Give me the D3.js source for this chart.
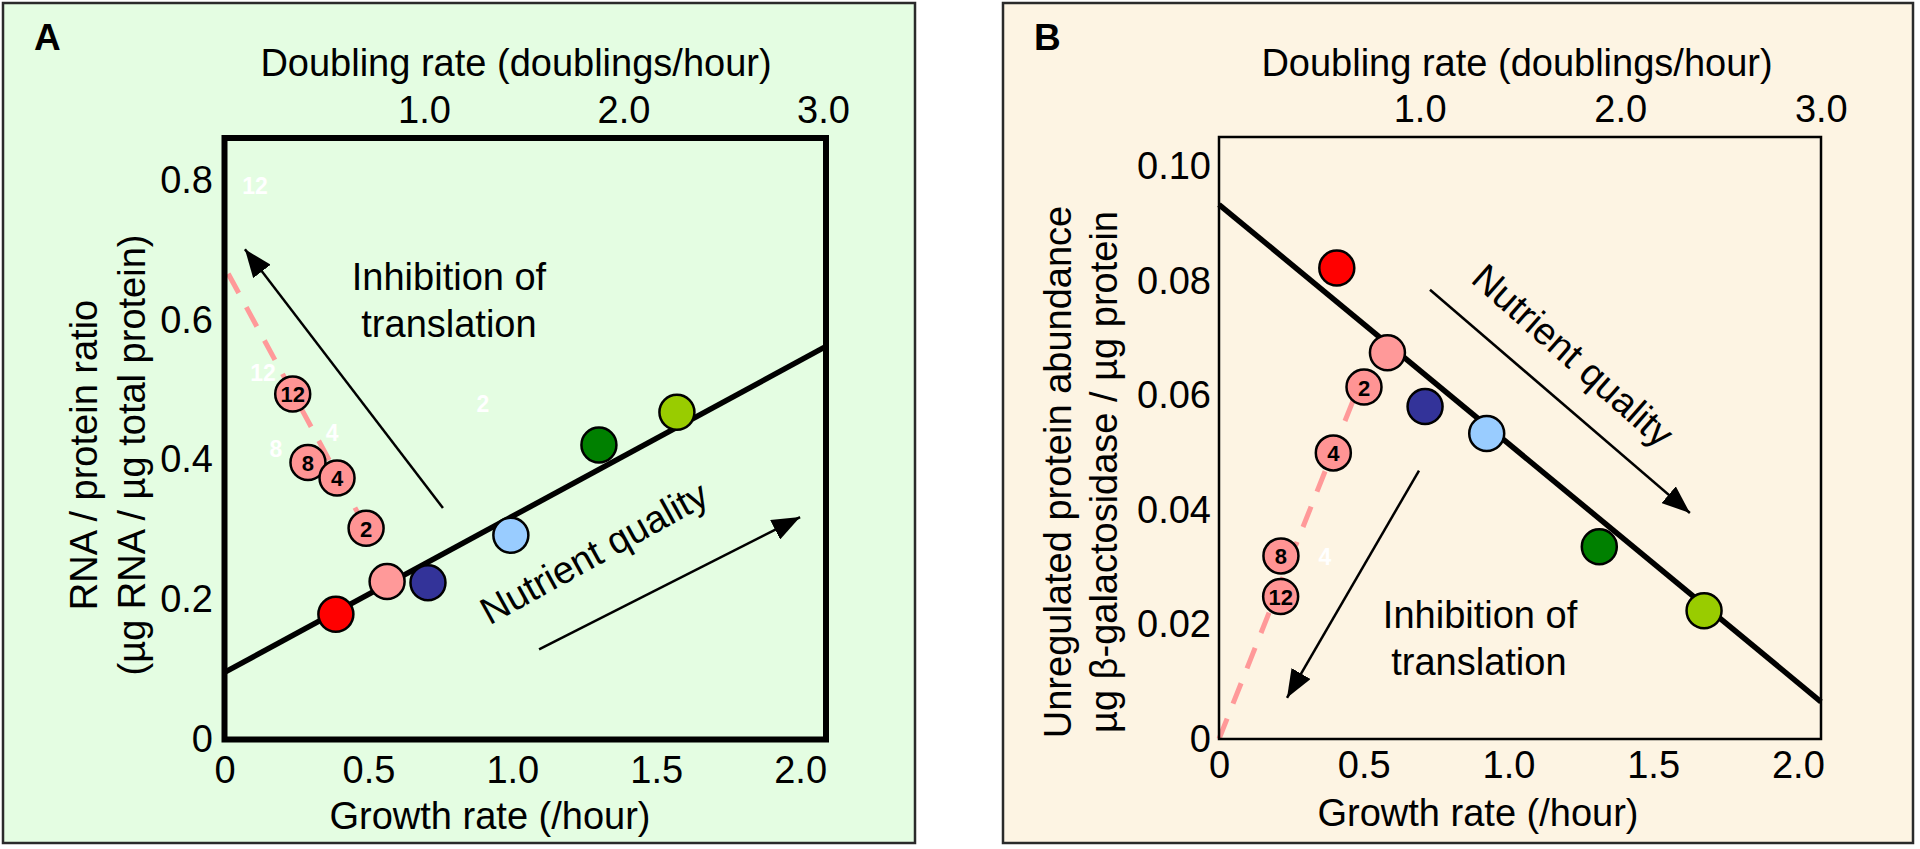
<!DOCTYPE html>
<html><head><meta charset="utf-8">
<script src="https://cdn.jsdelivr.net/npm/d3@7"></script>
<style>
html,body{margin:0;padding:0;background:#fff;}
svg{display:block;font-family:"Liberation Sans",Arial,Helvetica,sans-serif;}
</style>
</head><body>
<svg id="chart" width="1920" height="849"></svg>
<script>
// ================= DATA =================
const growthTicks = [0, 0.5, 1.0, 1.5, 2.0];
const growthTickLabels = ["0", "0.5", "1.0", "1.5", "2.0"];
const doublingTicks = [1, 2, 3];
const doublingTickLabels = ["1.0", "2.0", "3.0"];
const ratioTicksA = [0, 0.2, 0.4, 0.6, 0.8];
const ratioTickLabelsA = ["0", "0.2", "0.4", "0.6", "0.8"];
const abundTicksB = [0, 0.02, 0.04, 0.06, 0.08, 0.10];
const abundTickLabelsB = ["0", "0.02", "0.04", "0.06", "0.08", "0.10"];

// nutrient-limited media (one per colour)
const nutrientMedia = ["medium 1", "medium 2", "medium 3", "medium 4", "medium 5", "medium 6"];
const nutrientGrowthA = [0.387, 0.565, 0.707, 0.995, 1.301, 1.572];
const nutrientRatioA  = [0.179, 0.226, 0.224, 0.292, 0.421, 0.468];
const nutrientGrowthB = [0.407, 0.582, 0.712, 0.925, 1.314, 1.676];
const nutrientAbundB  = [0.0823, 0.0675, 0.0581, 0.0534, 0.0336, 0.0224];

// translation inhibition (drug dose labels)
const drugDoses   = ["12", "8", "4", "2"];
const drugGrowthA = [0.237, 0.290, 0.391, 0.492];
const drugRatioA  = [0.494, 0.396, 0.374, 0.302];
const drugGrowthB = [0.213, 0.214, 0.395, 0.501];
const drugAbundB  = [0.0249, 0.0320, 0.0500, 0.0615];

// fitted trend lines (end points)
const fitGrowthA = [0, 2.09];
const fitRatioA  = [0.096, 0.562];
const fitGrowthB = [0, 2.08];
const fitAbundB  = [0.0934, 0.0065];
const drugTrendGrowthA = [0.013, 0.492];
const drugTrendRatioA  = [0.666, 0.302];
const drugTrendGrowthB = [0, 0.47];
const drugTrendAbundB  = [0, 0.060];

// faint white labels present in the figure
const ghostLabelsA = ["12", "12", "8", "4", "2"];
const ghostGrowthA = [0.106, 0.134, 0.179, 0.374, 0.898];
const ghostRatioA  = [0.792, 0.524, 0.416, 0.438, 0.479];
const ghostLabelsB = ["4"];
const ghostGrowthB = [0.366];
const ghostAbundB  = [0.0318];

// annotation arrows [tail, tip] in data units
const inhibArrowGrowthA = [0.759, 0.071];
const inhibArrowRatioA  = [0.331, 0.701];
const nutrArrowGrowthA  = [1.093, 2.0];
const nutrArrowRatioA   = [0.129, 0.318];
const inhibArrowGrowthB = [0.691, 0.235];
const inhibArrowAbundB  = [0.0469, 0.0072];
const nutrArrowGrowthB  = [0.729, 1.627];
const nutrArrowAbundB   = [0.0785, 0.0395];

// ================= DRAWING =================
const nutrientPalette = ["#ff0000", "#ff9999", "#333399", "#99ccff", "#008000", "#99cc00"];
const drugFill = "#ff9494";
const LN2 = Math.LN2;
const svg = d3.select("#chart");

const defs = svg.append("defs");
defs.append("marker")
  .attr("id", "head").attr("viewBox", "0 0 28 22")
  .attr("refX", 28).attr("refY", 11)
  .attr("markerWidth", 28).attr("markerHeight", 22)
  .attr("markerUnits", "userSpaceOnUse").attr("orient", "auto")
  .append("path").attr("d", "M0,0 L28,11 L0,22 Z").attr("fill", "#000");

function panel(cfg) {
  const g = svg.append("g");
  g.append("rect").attr("x", cfg.box[0]).attr("y", cfg.box[1])
    .attr("width", cfg.box[2]).attr("height", cfg.box[3])
    .attr("fill", cfg.bg).attr("stroke", "#2a2a2a").attr("stroke-width", 2.5);
  g.append("text").attr("x", cfg.box[0] + 31).attr("y", 50)
    .attr("font-size", 37).attr("font-weight", "bold").text(cfg.letter);

  const p = cfg.plot; // left, top, right, bottom
  const x = d3.scaleLinear().domain([0, cfg.xMax]).range([p[0], p[2]]);
  const y = d3.scaleLinear().domain([0, cfg.yMax]).range([p[3], p[1]]);
  const xTop = d3.scaleLinear().domain([0, cfg.xMax / LN2]).range([p[0], p[2]]);

  const ax = g.append("g").attr("transform", `translate(0,${p[3]})`)
    .call(d3.axisBottom(x).tickValues(growthTicks).tickSize(0).tickPadding(cfg.padB)
      .tickFormat((d, i) => growthTickLabels[i]));
  const at = g.append("g").attr("transform", `translate(0,${p[1]})`)
    .call(d3.axisTop(xTop).tickValues(doublingTicks).tickSize(0).tickPadding(15)
      .tickFormat((d, i) => doublingTickLabels[i]));
  const al = g.append("g").attr("transform", `translate(${p[0]},0)`)
    .call(d3.axisLeft(y).tickValues(cfg.yTicks).tickSize(0).tickPadding(cfg.padL)
      .tickFormat((d, i) => cfg.yTickLabels[i]));
  [ax, at, al].forEach(a => {
    a.select(".domain").remove();
    a.selectAll("text").attr("font-size", 38).attr("fill", "#000")
      .attr("font-family", "Liberation Sans, Arial, sans-serif");
  });

  g.append("text").attr("x", cfg.topTitleX).attr("y", 76).attr("text-anchor", "middle")
    .attr("font-size", 38).text("Doubling rate (doublings/hour)");
  g.append("text").attr("x", cfg.botTitleX).attr("y", cfg.botTitleY).attr("text-anchor", "middle")
    .attr("font-size", 38).text("Growth rate (/hour)");
  cfg.yTitles.forEach((t, i) => {
    g.append("text").attr("transform", `translate(${cfg.yTitleX[i]},${cfg.yTitleY}) rotate(-90)`)
      .attr("text-anchor", "middle").attr("dominant-baseline", "central")
      .attr("font-size", 38).text(t);
  });

  cfg.ghost[0].forEach((t, i) => {
    g.append("text").attr("x", x(cfg.ghost[1][i])).attr("y", y(cfg.ghost[2][i]))
      .attr("text-anchor", "middle").attr("dominant-baseline", "central")
      .attr("font-size", 23).attr("font-weight", "bold").attr("fill", "#fff").text(t);
  });

  const line = d3.line().x(d => x(d[0])).y(d => y(d[1]));
  g.append("path").datum(d3.zip(cfg.dash[0], cfg.dash[1])).attr("d", line)
    .attr("stroke", "#ff9999").attr("stroke-width", 5).attr("stroke-dasharray", "22,16")
    .attr("fill", "none");
  g.append("path").datum(d3.zip(cfg.fit[0], cfg.fit[1])).attr("d", line)
    .attr("stroke", "#000").attr("stroke-width", 5.5).attr("fill", "none");

  cfg.arrows.forEach(a => {
    g.append("line").attr("x1", x(a[0][0])).attr("y1", y(a[1][0]))
      .attr("x2", x(a[0][1])).attr("y2", y(a[1][1]))
      .attr("stroke", "#000").attr("stroke-width", 2.5).attr("marker-end", "url(#head)");
  });

  cfg.inhibText.forEach((t, i) => {
    g.append("text").attr("x", x(t[0])).attr("y", y(t[1])).attr("text-anchor", "middle")
      .attr("font-size", 38).text(i === 0 ? "Inhibition of" : "translation");
  });
  const nq = cfg.nutrText;
  g.append("text")
    .attr("transform", `translate(${x(nq[0])},${y(nq[1])}) rotate(${nq[2]})`)
    .attr("text-anchor", "middle").attr("dominant-baseline", "central")
    .attr("font-size", 38).text("Nutrient quality");

  g.selectAll(".nut").data(d3.range(nutrientMedia.length)).enter().append("circle")
    .attr("cx", i => x(cfg.nut[0][i])).attr("cy", i => y(cfg.nut[1][i])).attr("r", 17.5)
    .attr("fill", i => nutrientPalette[i]).attr("stroke", "#000").attr("stroke-width", 2.5);
  const dg = g.selectAll(".drug").data(d3.range(drugDoses.length)).enter().append("g");
  dg.append("circle")
    .attr("cx", i => x(cfg.drug[0][i])).attr("cy", i => y(cfg.drug[1][i])).attr("r", 17.5)
    .attr("fill", drugFill).attr("stroke", "#000").attr("stroke-width", 2.5);
  dg.append("text")
    .attr("x", i => x(cfg.drug[0][i])).attr("y", i => y(cfg.drug[1][i]) + 1)
    .attr("text-anchor", "middle").attr("dominant-baseline", "central")
    .attr("font-size", 22).attr("font-weight", "bold").text(i => drugDoses[i]);

  g.append("rect").attr("x", p[0]).attr("y", p[1]).attr("width", p[2] - p[0]).attr("height", p[3] - p[1])
    .attr("fill", "none").attr("stroke", "#000").attr("stroke-width", cfg.frameW);
}

panel({
  letter: "A", box: [3, 3, 912, 840], bg: "#e4fde2",
  plot: [224.5, 138, 826, 739.5], xMax: 2.09, yMax: 0.86,
  yTicks: ratioTicksA, yTickLabels: ratioTickLabelsA, padB: 16.5, padL: 11.5,
  topTitleX: 516, botTitleX: 490, botTitleY: 829,
  yTitles: ["RNA / protein ratio", "(\u00b5g RNA / \u00b5g total protein)"],
  yTitleX: [84, 132], yTitleY: 455,
  ghost: [ghostLabelsA, ghostGrowthA, ghostRatioA],
  dash: [drugTrendGrowthA, drugTrendRatioA],
  fit: [fitGrowthA, fitRatioA],
  arrows: [[inhibArrowGrowthA, inhibArrowRatioA], [nutrArrowGrowthA, nutrArrowRatioA]],
  inhibText: [[0.78, 0.642], [0.78, 0.575]],
  nutrText: [1.284, 0.267, -29],
  nut: [nutrientGrowthA, nutrientRatioA],
  drug: [drugGrowthA, drugRatioA],
  frameW: 6
});

panel({
  letter: "B", box: [1003, 3, 910, 840], bg: "#fdf4e3",
  plot: [1219, 137, 1821, 739], xMax: 2.08, yMax: 0.1052,
  yTicks: abundTicksB, yTickLabels: abundTickLabelsB, padB: 12, padL: 8,
  topTitleX: 1517, botTitleX: 1478, botTitleY: 826,
  yTitles: ["Unregulated protein abundance", "\u00b5g \u03b2-galactosidase / \u00b5g protein"],
  yTitleX: [1058, 1104], yTitleY: 472,
  ghost: [ghostLabelsB, ghostGrowthB, ghostAbundB],
  dash: [drugTrendGrowthB, drugTrendAbundB],
  fit: [fitGrowthB, fitAbundB],
  arrows: [[inhibArrowGrowthB, inhibArrowAbundB], [nutrArrowGrowthB, nutrArrowAbundB]],
  inhibText: [[0.902, 0.0194], [0.898, 0.0112]],
  nutrText: [1.223, 0.0670, 41.5],
  nut: [nutrientGrowthB, nutrientAbundB],
  drug: [drugGrowthB, drugAbundB],
  frameW: 2.5
});
</script>
</body></html>
